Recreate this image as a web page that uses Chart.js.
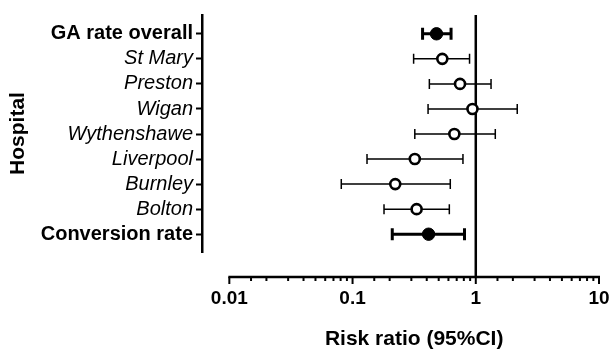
<!DOCTYPE html>
<html>
<head>
<meta charset="utf-8">
<script src="https://cdn.jsdelivr.net/npm/chart.js@4.4.1/dist/chart.umd.min.js"></script>
<style>
  html, body { margin: 0; padding: 0; background: #fff; }
</style>
</head>
<body>
<canvas id="forest" width="611" height="349"></canvas>
<script>
// rows top to bottom
const hospitals = ['GA rate overall', 'St Mary', 'Preston', 'Wigan', 'Wythenshawe', 'Liverpool', 'Burnley', 'Bolton', 'Conversion rate'];
const summaryRows = [0, 8];
const riskRatio = [0.48, 0.535, 0.745, 0.94, 0.67, 0.32, 0.222, 0.331, 0.414];
const ciLow = [0.37, 0.313, 0.42, 0.41, 0.32, 0.131, 0.081, 0.18, 0.21];
const ciHigh = [0.63, 0.89, 1.33, 2.17, 1.44, 0.787, 0.621, 0.61, 0.81];
const xTickLabels = [0.01, 0.1, 1, 10];
const refValue = 1;

const FONT = '"Liberation Sans", Arial, sans-serif';
const xAxisGap = 25;
const isSummary = i => summaryRows.includes(i);
const isDecade = v => Math.abs(Math.log10(v) - Math.round(Math.log10(v))) < 1e-6;

const forestPlugin = {
    id: 'forest',
    beforeDatasetsDraw(chart) {
        const { ctx, chartArea, scales: { x, y } } = chart;
        ctx.save();
        ctx.strokeStyle = '#000';
        // line of no effect
        const rx = x.getPixelForValue(refValue);
        ctx.lineWidth = 2.5;
        ctx.beginPath();
        ctx.moveTo(rx, chartArea.top);
        ctx.lineTo(rx, chartArea.bottom + xAxisGap);
        ctx.stroke();
        // confidence intervals
        hospitals.forEach((_, i) => {
            const py = y.getPixelForValue(i);
            const x0 = x.getPixelForValue(ciLow[i]);
            const x1 = x.getPixelForValue(ciHigh[i]);
            const cap = isSummary(i) ? 6 : 5;
            ctx.lineWidth = isSummary(i) ? 3 : 1.5;
            ctx.beginPath();
            ctx.moveTo(x0, py); ctx.lineTo(x1, py);
            ctx.moveTo(x0, py - cap); ctx.lineTo(x0, py + cap);
            ctx.moveTo(x1, py - cap); ctx.lineTo(x1, py + cap);
            ctx.stroke();
        });
        ctx.restore();
    },
    afterDraw(chart) {
        const { ctx, chartArea, scales: { x } } = chart;
        const ay = chartArea.bottom + xAxisGap;
        const lo = xTickLabels[0], hi = xTickLabels[xTickLabels.length - 1];
        ctx.save();
        ctx.strokeStyle = '#000';
        ctx.lineWidth = 2.5;
        ctx.beginPath();
        ctx.moveTo(x.getPixelForValue(lo) - 1, ay);
        ctx.lineTo(x.getPixelForValue(hi) + 1, ay);
        ctx.stroke();
        ctx.lineWidth = 2;
        x.ticks.forEach(t => {
            if (t.value < lo * 0.999 || t.value > hi * 1.001) return;
            const px = x.getPixelForValue(t.value);
            ctx.beginPath();
            ctx.moveTo(px, ay);
            ctx.lineTo(px, ay + (isDecade(t.value) ? 7 : 4));
            ctx.stroke();
        });
        ctx.fillStyle = '#000';
        ctx.font = `bold 21px ${FONT}`;
        ctx.textAlign = 'center';
        ctx.textBaseline = 'alphabetic';
        ctx.fillText('Risk ratio (95%CI)', x.getPixelForValue(Math.sqrt(lo * hi)), 345);
        ctx.restore();
    }
};

const pts = idx => idx.map(i => ({ x: riskRatio[i], y: i }));
const allRows = hospitals.map((_, i) => i);

new Chart(document.getElementById('forest'), {
    type: 'scatter',
    data: {
        datasets: [
            {
                data: pts(allRows.filter(i => !isSummary(i))),
                pointRadius: 5, pointBorderWidth: 2.6,
                pointBackgroundColor: '#fff', pointBorderColor: '#000'
            },
            {
                data: pts(summaryRows),
                pointRadius: 6.2, pointBorderWidth: 1,
                pointBackgroundColor: '#000', pointBorderColor: '#000'
            }
        ]
    },
    options: {
        responsive: false,
        devicePixelRatio: 1,
        animation: false,
        layout: { padding: { top: 12, right: 12, bottom: 0, left: 0 } },
        plugins: { legend: { display: false }, tooltip: { enabled: false } },
        scales: {
            x: {
                type: 'logarithmic',
                min: 0.006, max: 10,
                // invisible tick marks only push the labels below the drawn axis
                grid: { display: true, drawOnChartArea: false, tickLength: 34, tickColor: 'rgba(0,0,0,0)' },
                border: { display: false },
                ticks: {
                    autoSkip: false, maxRotation: 0, padding: 1, color: '#000',
                    font: { family: FONT, size: 19, weight: 'bold' },
                    callback: v => (v >= 0.0099 && isDecade(v)) ? String(xTickLabels.find(t => Math.abs(t - v) < t * 1e-6)) : ''
                },
                afterFit: s => { s.height = 97; }
            },
            y: {
                type: 'linear',
                reverse: true,
                min: -0.75, max: 8.71,
                afterBuildTicks: s => { s.ticks = hospitals.map((_, i) => ({ value: i })); },
                grid: { drawOnChartArea: false, tickLength: 6, tickWidth: 2, tickColor: '#000' },
                border: { display: true, width: 2.5, color: '#000' },
                ticks: {
                    padding: 3, color: '#000',
                    callback: (v, i) => hospitals[i],
                    font: ctx => ({
                        family: FONT, size: 20,
                        weight: isSummary(ctx.index) ? 'bold' : 'normal',
                        style: isSummary(ctx.index) ? 'normal' : 'italic'
                    })
                },
                title: {
                    display: true, text: 'Hospital', color: '#000',
                    font: { family: FONT, size: 21, weight: 'bold' },
                    padding: { top: 6, bottom: 0 }
                },
                afterFit: s => { s.width = 202; }
            }
        }
    },
    plugins: [forestPlugin]
});
</script>
</body>
</html>
